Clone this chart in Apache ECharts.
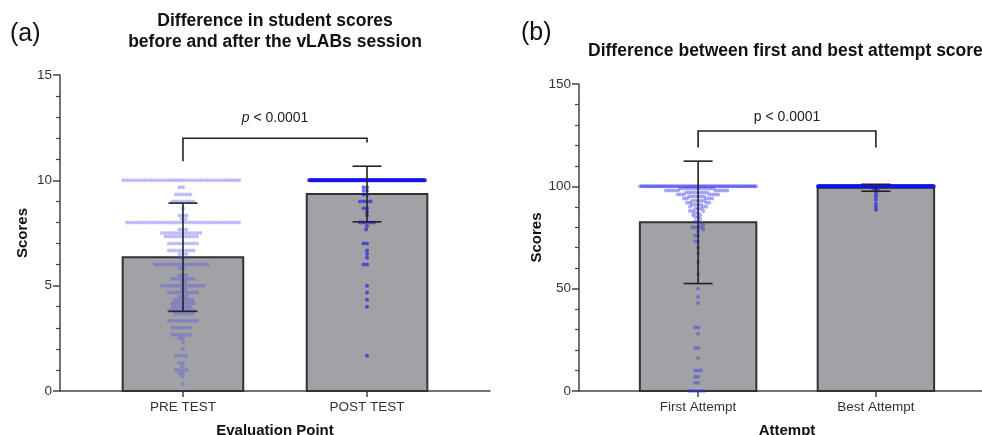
<!DOCTYPE html>
<html>
<head>
<meta charset="utf-8">
<script src="https://cdn.jsdelivr.net/npm/echarts@6/dist/echarts.min.js"></script>
<style>
  html, body { margin: 0; padding: 0; background: #fff; }
  #chart { width: 982px; height: 435px; }
</style>
</head>
<body>
<div id="chart"></div>
<script>
// ---- data ----
const catsA = ['PRE TEST', 'POST TEST'];
const meanA = [6.35, 9.35];
const sdA = [2.57, 1.32];
const preLevels = [10, 9.67, 9.33, 9, 8.67, 8.33, 8.17, 8, 7.67, 7.5, 7.33, 7, 6.67, 6.5, 6.33, 6, 5.83, 5.5, 5.33, 5.17, 5, 4.83, 4.67, 4.5, 4.33, 4.17, 4, 3.83, 3.67, 3.33, 3, 2.67, 2.5, 2.33, 2, 1.67, 1.33, 1.17, 1, 0.83, 0.67, 0.33];
const preCounts = [34, 2, 5, 7, 1, 3, 2, 33, 3, 12, 10, 9, 8, 3, 3, 16, 2, 3, 7, 2, 13, 2, 9, 3, 6, 7, 6, 8, 6, 9, 6, 6, 2, 1, 1, 4, 2, 1, 4, 2, 1, 1];
const postLevels = [10, 9.67, 9.5, 9.33, 9, 8.67, 8.5, 8.33, 8, 7.83, 7.67, 7, 6.67, 6.5, 6.33, 6, 5, 4.67, 4.33, 4, 1.67];
const postCounts = [200, 2, 2, 2, 4, 2, 1, 1, 5, 1, 1, 2, 1, 1, 1, 2, 1, 1, 1, 1, 1];
const yTicksA = [0, 5, 10, 15];
const bracketA = [12.0, 10.9, 11.8];   // bar level, left leg end, right leg end

const catsB = ['First Attempt', 'Best Attempt'];
const meanB = [82.4, 99.3];
const sdB = [29.9, 1.7];
const firstLevels = [100, 99, 98, 97, 96, 95, 94, 93, 92, 91, 90, 89, 88, 87, 86, 85, 84, 83, 82, 81, 80, 79, 78, 76, 73, 70, 67, 63, 57, 50, 46, 43, 31, 28, 21, 16, 10, 7, 4, 0];
const firstCounts = [80, 12, 10, 8, 7, 6, 5, 5, 4, 4, 3, 3, 3, 2, 2, 2, 1, 2, 1, 1, 4, 1, 1, 2, 2, 1, 1, 1, 1, 1, 1, 1, 2, 1, 2, 1, 3, 2, 2, 6];
const bestLevels = [100, 99, 98, 96.5, 95, 93.5, 91.5, 90, 88.5];
const bestCounts = [230, 2, 1, 1, 1, 1, 1, 1, 1];
const yTicksB = [0, 50, 100, 150];
const bracketB = [127, 119, 119];

// ---- layout / style ----
const FONT = '"Liberation Sans", Arial, Helvetica, sans-serif';
const BAR_W = 0.655;     // bar width in category units
const CAP_PX = 29;
const gridA = { left: 60, top: 75, width: 430, height: 316 };
const gridB = { left: 579, top: 84, width: 416, height: 307 };
const xRangeA = [-0.668, 1.668];
const xRangeB = [-0.67, 1.67];

// simple beeswarm: rows too crowded for the bar are squeezed into a line
function swarm(levels, counts, cx, pxX, pxY, diam, maxW) {
  const groups = levels.map((v, i) => ({ v: v, n: counts[i] }))
    .sort((a, b) => b.n - a.n);
  const placed = [];
  const out = [];
  groups.forEach(g => {
    const yPx = g.v * pxY;
    if ((g.n - 1) * diam > maxW) {
      for (let k = 0; k < g.n; k++) {
        out.push([cx + (-maxW / 2 + maxW * k / (g.n - 1)) / pxX, g.v]);
      }
      return;
    }
    for (let k = 0; k < g.n; k++) {
      const ivs = [];
      placed.forEach(p => {
        const dy = Math.abs(p.y - yPx);
        if (dy < diam) {
          const w = Math.sqrt(diam * diam - dy * dy);
          ivs.push([p.x - w, p.x + w]);
        }
      });
      const cands = [0];
      ivs.forEach(iv => cands.push(iv[0], iv[1]));
      cands.sort((a, b) => Math.abs(a) - Math.abs(b) || a - b);
      const best = cands.find(c => ivs.every(iv => c <= iv[0] + 1e-6 || c >= iv[1] - 1e-6));
      placed.push({ x: best, y: yPx });
      out.push([cx + best / pxX, g.v]);
    }
  });
  return out;
}

const pxXA = gridA.width / (xRangeA[1] - xRangeA[0]);
const pxYA = gridA.height / 15;
const pxXB = gridB.width / (xRangeB[1] - xRangeB[0]);
const pxYB = gridB.height / 150;

const preDots = swarm(preLevels, preCounts, 0, pxXA, pxYA, 3.5, 116);
const postDots = swarm(postLevels, postCounts, 1, pxXA, pxYA, 3.5, 116);
const firstDots = swarm(firstLevels, firstCounts, 0, pxXB, pxYB, 3.0, 116);
const bestDots = swarm(bestLevels, bestCounts, 1, pxXB, pxYB, 3.0, 116);

function renderBar(params, api) {
  const x = api.value(0), m = api.value(1);
  const p0 = api.coord([x - BAR_W / 2, m]);
  const p1 = api.coord([x + BAR_W / 2, 0]);
  return {
    type: 'rect',
    shape: { x: p0[0], y: p0[1], width: p1[0] - p0[0], height: p1[1] - p0[1] },
    style: { fill: '#a2a1a6', stroke: '#333', lineWidth: 2 }
  };
}

function renderErr(params, api) {
  const x = api.value(0), m = api.value(1), s = api.value(2);
  const top = api.coord([x, m + s]);
  const bot = api.coord([x, m - s]);
  const st = { stroke: '#222', lineWidth: 1.6 };
  const h = CAP_PX / 2;
  return {
    type: 'group',
    children: [
      { type: 'line', shape: { x1: top[0], y1: top[1], x2: bot[0], y2: bot[1] }, style: st },
      { type: 'line', shape: { x1: top[0] - h, y1: top[1], x2: top[0] + h, y2: top[1] }, style: st },
      { type: 'line', shape: { x1: bot[0] - h, y1: bot[1], x2: bot[0] + h, y2: bot[1] }, style: st }
    ]
  };
}

function bracketRenderer(label, italic, gap) {
  return function (params, api) {
    const yTop = api.value(2);
    const a = api.coord([api.value(0), api.value(3)]);
    const b = api.coord([api.value(0), yTop]);
    const c = api.coord([api.value(1), yTop]);
    const d = api.coord([api.value(1), api.value(4)]);
    return {
      type: 'group',
      children: [
        { type: 'polyline', shape: { points: [a, b, c, d] }, style: { stroke: '#222', lineWidth: 1.6, fill: null } },
        {
          type: 'text',
          x: (b[0] + c[0]) / 2, y: b[1] - gap,
          style: {
            text: italic ? '{i|p} < 0.0001' : label,
            fontSize: 14, fontFamily: FONT, fill: '#222',
            align: 'center', verticalAlign: 'middle',
            rich: { i: { fontStyle: 'italic', fontSize: 14, fontFamily: FONT, fill: '#222' } }
          }
        }
      ]
    };
  };
}

function xAxisCfg(gridIndex, range, cats, name) {
  return {
    type: 'value', gridIndex: gridIndex, min: range[0], max: range[1],
    name: name, nameLocation: 'middle', nameGap: 32,
    nameTextStyle: { fontFamily: FONT, fontWeight: 'bold', fontSize: 15, color: '#111' },
    axisLine: { show: true, onZero: false, lineStyle: { color: '#444', width: 1.5 } },
    axisTick: { show: true, length: 6, customValues: [0, 1], lineStyle: { color: '#444', width: 1.5 } },
    axisLabel: {
      customValues: [0, 1], margin: 9, fontFamily: FONT, fontSize: 13.5, color: '#333',
      formatter: v => cats[Math.round(v)]
    },
    splitLine: { show: false }
  };
}

function yAxisCfg(gridIndex, max, step, ticks) {
  return {
    type: 'value', gridIndex: gridIndex, min: 0, max: max, interval: step,
    name: 'Scores', nameLocation: 'middle', nameGap: 30, nameRotate: 90,
    nameTextStyle: { fontFamily: FONT, fontWeight: 'bold', fontSize: 15, color: '#111' },
    axisLine: { show: true, onZero: false, lineStyle: { color: '#444', width: 1.5 } },
    axisTick: { show: true, length: 7, lineStyle: { color: '#444', width: 1.5 } },
    minorTick: { show: true, splitNumber: 5, length: 4, lineStyle: { color: '#444', width: 1.2 } },
    axisLabel: { customValues: ticks, margin: 8, fontFamily: FONT, fontSize: 13.5, color: '#333' },
    splitLine: { show: false }
  };
}

const chart = echarts.init(document.getElementById('chart'));
chart.setOption({
  animation: false,
  backgroundColor: '#fff',
  grid: [
    Object.assign({ containLabel: false, outerBoundsMode: 'none' }, gridA),
    Object.assign({ containLabel: false, outerBoundsMode: 'none' }, gridB)
  ],
  xAxis: [
    xAxisCfg(0, xRangeA, catsA, 'Evaluation Point'),
    xAxisCfg(1, xRangeB, catsB, 'Attempt')
  ],
  yAxis: [
    yAxisCfg(0, 15, 5, yTicksA),
    yAxisCfg(1, 150, 50, yTicksB)
  ],
  graphic: [
    { type: 'text', x: 10, y: 34, style: { text: '(a)', font: '25px ' + FONT, fill: '#111', verticalAlign: 'middle' } },
    { type: 'text', x: 521, y: 33, style: { text: '(b)', font: '25px ' + FONT, fill: '#111', verticalAlign: 'middle' } },
    {
      type: 'text', x: 275, y: 32,
      style: {
        text: 'Difference in student scores\nbefore and after the vLABs session',
        font: 'bold 17.5px ' + FONT, lineHeight: 21, fill: '#111', align: 'center', verticalAlign: 'middle'
      }
    },
    {
      type: 'text', x: 588, y: 51,
      style: {
        text: 'Difference between first and best attempt scores',
        font: 'bold 17.5px ' + FONT, fill: '#111', align: 'left', verticalAlign: 'middle'
      }
    }
  ],
  series: [
    {
      type: 'custom', xAxisIndex: 0, yAxisIndex: 0, renderItem: renderBar,
      encode: { x: 0, y: 1 }, data: meanA.map((m, i) => [i, m]), z: 1
    },
    {
      type: 'custom', xAxisIndex: 1, yAxisIndex: 1, renderItem: renderBar,
      encode: { x: 0, y: 1 }, data: meanB.map((m, i) => [i, m]), z: 1
    },
    { type: 'scatter', xAxisIndex: 0, yAxisIndex: 0, data: preDots, symbolSize: 4, itemStyle: { color: 'rgba(80,80,235,0.45)' }, z: 2 },
    { type: 'scatter', xAxisIndex: 0, yAxisIndex: 0, data: postDots, symbolSize: 4, itemStyle: { color: 'rgba(20,20,235,0.75)' }, z: 2 },
    { type: 'scatter', xAxisIndex: 1, yAxisIndex: 1, data: firstDots, symbolSize: 4, itemStyle: { color: 'rgba(50,50,235,0.5)' }, z: 2 },
    { type: 'scatter', xAxisIndex: 1, yAxisIndex: 1, data: bestDots, symbolSize: 4, itemStyle: { color: 'rgba(20,20,235,0.75)' }, z: 2 },
    {
      type: 'custom', xAxisIndex: 0, yAxisIndex: 0, renderItem: renderErr,
      encode: { x: 0, y: 1 }, data: meanA.map((m, i) => [i, m, sdA[i]]), z: 3
    },
    {
      type: 'custom', xAxisIndex: 1, yAxisIndex: 1, renderItem: renderErr,
      encode: { x: 0, y: 1 }, data: meanB.map((m, i) => [i, m, sdB[i]]), z: 3
    },
    {
      type: 'custom', xAxisIndex: 0, yAxisIndex: 0, renderItem: bracketRenderer('p < 0.0001', true, 20),
      encode: { x: [0, 1], y: [2, 3, 4] }, data: [[0, 1].concat(bracketA)], z: 4
    },
    {
      type: 'custom', xAxisIndex: 1, yAxisIndex: 1, renderItem: bracketRenderer('p < 0.0001', false, 14),
      encode: { x: [0, 1], y: [2, 3, 4] }, data: [[0, 1].concat(bracketB)], z: 4
    }
  ]
});
</script>
</body>
</html>
